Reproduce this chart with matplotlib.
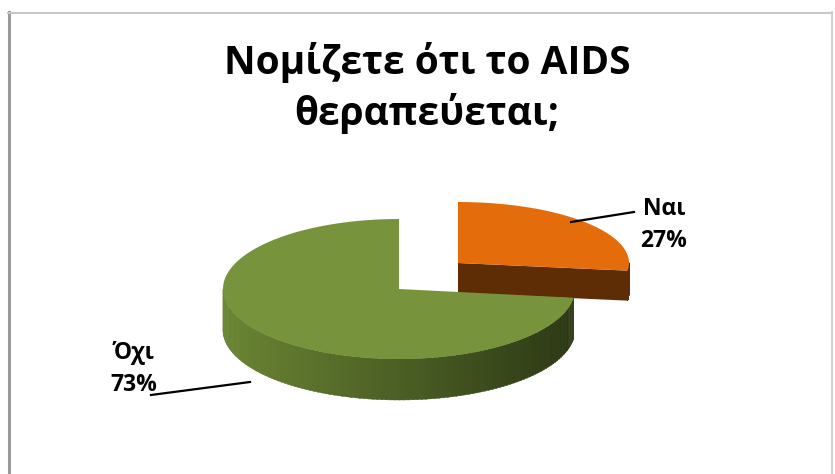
import numpy as np
import matplotlib
matplotlib.use("Agg")
import matplotlib.pyplot as plt
from matplotlib.patches import Polygon
from matplotlib.colors import to_rgb

plt.rcParams['font.family'] = ['Open Sans', 'DejaVu Sans']

title = "Νομίζετε ότι το AIDS\nθεραπεύεται;"
labels = ["Ναι", "Όχι"]
values = [27, 73]
top_colors = ["#E46C0A", "#77933C"]
side_left = ["#5E2D06", "#6A8533"]
side_right = ["#5E2D06", "#2C3815"]

W, H = 835, 474
fig = plt.figure(figsize=(W / 100, H / 100), dpi=100)
ax = fig.add_axes([0, 0, 1, 1])
ax.set_xlim(0, W)
ax.set_ylim(H, 0)
ax.axis("off")

# frame
ax.plot([8.5, 8.5], [12, H], color="#9a9a9a", lw=2.2)
ax.plot([8, 832], [12.5, 12.5], color="#c8c8c8", lw=1.5)
ax.plot([832, 832], [12, H], color="#c8c8c8", lw=1.2)

# pseudo 3d pie geometry (pixels)
cx, cy = 399, 289
geom = [dict(rx=171, ry=61, depth=30, dx=59, dy=-26),   # Ναι (exploded, further back)
        dict(rx=176, ry=70, depth=41, dx=0, dy=0)]       # Όχι

fracs = np.array(values) / sum(values)
slices = []
ang = 90.0
for f in fracs:
    a1 = ang - 360 * f  # clockwise from the top
    slices.append((a1, ang))
    ang = a1


def pt(c, g, a):
    r = np.radians(a)
    return c[0] + g["rx"] * np.cos(r), c[1] - g["ry"] * np.sin(r)


def mix(c1, c2, t):
    a, b = np.array(to_rgb(c1)), np.array(to_rgb(c2))
    return tuple(a + (b - a) * t)


for i in [0, 1]:
    a1, a2 = slices[i]
    g = geom[i]
    c = (cx + g["dx"], cy + g["dy"])
    d = g["depth"]
    # outer side, only the front half (sin < 0)
    for s in (-360, 0, 360):
        l, h = max(a1, s - 180), min(a2, s)
        if h <= l:
            continue
        edges = np.linspace(l, h, 120)
        for k in range(len(edges) - 1):
            p, q = pt(c, g, edges[k]), pt(c, g, edges[k + 1] + 0.3)
            t = (np.cos(np.radians(edges[k])) + 1) / 2
            col = mix(side_left[i], side_right[i], t)
            ax.add_patch(Polygon([p, q, (q[0], q[1] + d), (p[0], p[1] + d)],
                                 closed=True, fc=col, ec=col, lw=0.3))
    # visible cut face of the exploded slice
    if i == 0:
        p = pt(c, g, a1)
        face = [c, p, (p[0], p[1] + d), (c[0], c[1] + d)]
        ax.add_patch(Polygon(face, closed=True, fc=side_left[i], ec="none"))
    top = [pt(c, g, a) for a in np.linspace(a1, a2, 240)]
    ax.add_patch(Polygon([c] + top, closed=True, fc=top_colors[i], ec="none"))

ax.text(427, 88, title, ha="center", va="center", fontsize=28, fontweight="bold",
        linespacing=1.3)

# labels with leader lines
ax.plot([571, 634], [222, 212], color="black", lw=1.6)
ax.text(664, 225, f"{labels[0]}\n{values[0]}%", ha="center", va="center",
        fontsize=16.5, fontweight="bold", linespacing=1.45)
ax.plot([151, 250], [395, 382], color="black", lw=1.6)
ax.text(134, 369, f"{labels[1]}\n{values[1]}%", ha="center", va="center",
        fontsize=16.5, fontweight="bold", linespacing=1.45)

fig.savefig("out.png", dpi=100)
